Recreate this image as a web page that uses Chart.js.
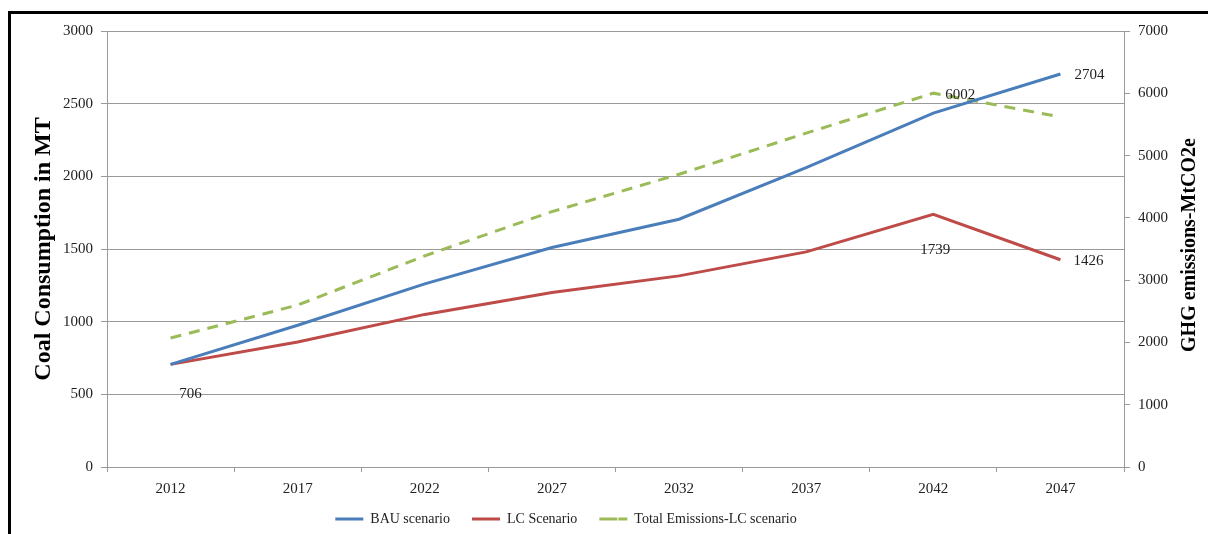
<!DOCTYPE html>
<html>
<head>
<meta charset="utf-8">
<script src="https://cdn.jsdelivr.net/npm/chart.js@4.4.0/dist/chart.umd.min.js"></script>
<style>
  html, body { margin: 0; padding: 0; background: #fff; overflow: hidden; }
  #wrap { position: relative; width: 1208px; height: 534px; }
  #frame { position: absolute; left: 8px; top: 11px; width: 1300px; height: 600px;
           border: 3px solid #000; pointer-events: none; }
</style>
</head>
<body>
<div id="wrap">
  <canvas id="coalChart" width="1208" height="534"></canvas>
  <div id="frame"></div>
</div>
<script>
const years = ['2012', '2017', '2022', '2027', '2032', '2037', '2042', '2047'];
const bauScenario = [706, 975, 1260, 1510, 1705, 2060, 2435, 2704];
const lcScenario = [706, 860, 1050, 1200, 1315, 1480, 1739, 1426];
const totalEmissionsLC = [2070, 2600, 3390, 4100, 4700, 5360, 6002, 5620];

const serif = '"Liberation Serif", "Times New Roman", serif';
const textColor = '#222';
const gridColor = '#9a9a9a';

// which points carry a value label, and where it sits relative to the point
const pointLabels = [
  { ds: 0, idx: 0, dx: 20, dy: 30, align: 'center' },
  { ds: 0, idx: 7, dx: 14, dy: 1, align: 'left' },
  { ds: 1, idx: 7, dx: 13, dy: 1, align: 'left' },
  { ds: 1, idx: 6, dx: 2, dy: 36, align: 'center' },
  { ds: 2, idx: 6, dx: 12, dy: 2, align: 'left' },
];

const valueLabels = {
  id: 'valueLabels',
  afterDatasetsDraw(chart) {
    const ctx = chart.ctx;
    ctx.save();
    ctx.font = '15px ' + serif;
    ctx.fillStyle = textColor;
    ctx.textBaseline = 'middle';
    pointLabels.forEach(l => {
      const pt = chart.getDatasetMeta(l.ds).data[l.idx];
      const v = chart.data.datasets[l.ds].data[l.idx];
      ctx.textAlign = l.align;
      ctx.fillText(String(v), pt.x + l.dx, pt.y + l.dy);
    });
    ctx.restore();
  }
};

function drawVerticalTitle(ctx, text, font, x, y) {
  ctx.save();
  ctx.fillStyle = '#000';
  ctx.textAlign = 'center';
  ctx.textBaseline = 'middle';
  ctx.font = font;
  ctx.translate(x, y);
  ctx.rotate(-Math.PI / 2);
  ctx.fillText(text, 0, 0);
  ctx.restore();
}

const axisTitles = {
  id: 'axisTitles',
  afterDraw(chart) {
    const a = chart.chartArea;
    const midY = (a.top + a.bottom) / 2;
    drawVerticalTitle(chart.ctx, 'Coal Consumption in MT', 'bold 24px ' + serif, 44, midY);
    drawVerticalTitle(chart.ctx, 'GHG emissions-MtCO2e', 'bold 20px ' + serif, 1190, midY - 4);
  }
};

// nudge the legend left and up to where the original sits
const legendShift = {
  id: 'legendShift',
  afterLayout(chart) {
    const lg = chart.legend;
    lg.left -= 38;
    lg.right -= 38;
    lg.top -= 7;
    lg.bottom -= 7;
  }
};

const plainTick = v => String(v);

const ctx = document.getElementById('coalChart').getContext('2d');
const chart = new Chart(ctx, {
  type: 'line',
  data: {
    labels: years,
    datasets: [
      {
        label: 'BAU scenario',
        data: bauScenario,
        borderColor: '#4a7ebb',
        backgroundColor: '#4a7ebb',
        borderWidth: 3,
        pointRadius: 0,
        tension: 0,
        yAxisID: 'y',
      },
      {
        label: 'LC Scenario',
        data: lcScenario,
        borderColor: '#be4b48',
        backgroundColor: '#be4b48',
        borderWidth: 3,
        pointRadius: 0,
        tension: 0,
        yAxisID: 'y',
      },
      {
        label: 'Total Emissions-LC scenario',
        data: totalEmissionsLC,
        borderColor: '#9bbb59',
        backgroundColor: '#9bbb59',
        borderWidth: 3,
        borderDash: [11, 8],
        pointRadius: 0,
        tension: 0,
        yAxisID: 'y1',
      },
    ],
  },
  options: {
    responsive: false,
    animation: false,
    layout: { padding: { top: 31, bottom: -9, left: 0, right: 0 } },
    plugins: {
      tooltip: { enabled: false },
      legend: {
        position: 'bottom',
        labels: {
          font: { family: serif, size: 14 },
          color: textColor,
          boxWidth: 28,
          boxHeight: 0,
          padding: 22,
        },
      },
    },
    scales: {
      x: {
        offset: true,
        grid: { offset: true, drawOnChartArea: false, color: gridColor, tickLength: 5 },
        border: { color: gridColor },
        ticks: { font: { family: serif, size: 15 }, color: textColor, padding: 8, maxRotation: 0 },
        afterFit(scale) { scale.height = 30; },
      },
      y: {
        position: 'left',
        min: 0,
        max: 3000,
        ticks: { stepSize: 500, font: { family: serif, size: 15 }, color: textColor, padding: 8, callback: plainTick },
        grid: { color: gridColor, tickLength: 6 },
        border: { color: gridColor },
        afterFit(scale) { scale.width = 107; },
      },
      y1: {
        position: 'right',
        min: 0,
        max: 7000,
        ticks: { stepSize: 1000, font: { family: serif, size: 15 }, color: textColor, padding: 8, callback: plainTick },
        grid: { drawOnChartArea: false, color: gridColor, tickLength: 6 },
        border: { color: gridColor },
        afterFit(scale) { scale.width = 84; },
      },
    },
  },
  plugins: [valueLabels, axisTitles, legendShift],
});
</script>
</body>
</html>
